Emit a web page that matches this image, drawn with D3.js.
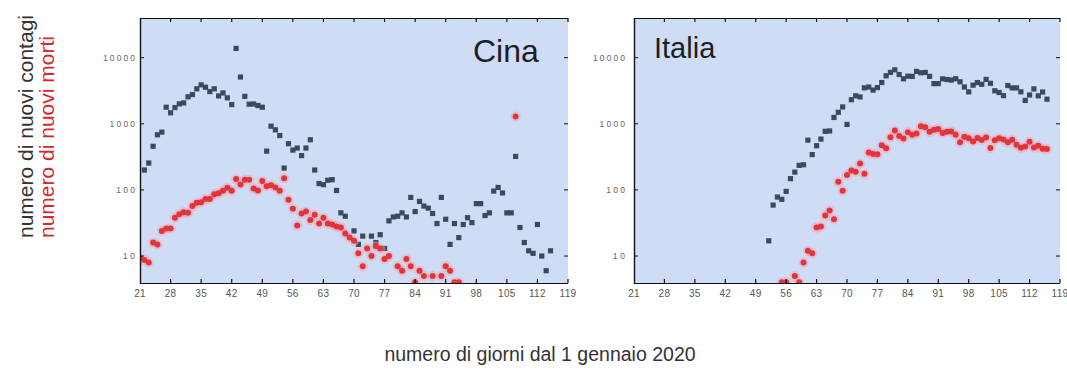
<!DOCTYPE html>
<html>
<head>
<meta charset="utf-8">
<script src="https://cdn.jsdelivr.net/npm/d3@7"></script>
<style>
  html, body { margin: 0; padding: 0; background: #ffffff; }
  svg { display: block; }
  text { font-family: "Liberation Sans", Arial, sans-serif; }
</style>
</head>
<body>
<svg id="chart" width="1067" height="379"></svg>
<script>
// Daily new cases (contagi) and new deaths (morti), by day of year 2020

// China - new cases
const chinaCaseDays = [22,23,24,25,26,27,28,29,30,31,32,33,34,35,36,37,38,39,40,41,42,43,44,45,46,47,48,49,50,51,52,53,54,55,56,57,58,59,60,61,62,63,64,65,66,67,68,70,71,72,74,75,76,77,78,79,80,81,82,83,84,85,86,87,88,89,90,91,92,93,94,95,96,97,98,99,100,101,102,103,104,105,106,107,108,109,110,111,112,113,114,115];
const chinaCases = [200,255,457,682,748,1780,1465,1760,2000,2070,2560,2770,3380,3880,3570,3070,3380,2640,2930,2470,1950,13800,5100,2600,1980,1990,1890,1780,386,920,810,665,214,500,400,430,330,430,573,200,125,120,140,143,98,45,40,24,15,20,20,16,21,13,34,39,40,45,39,77,47,67,57,53,44,31,77,36,15,31,19,30,38,32,62,62,41,45,96,109,90,45,45,321,27,16,12,11,30,10,6,12];

// China - new deaths
const chinaDeathDays = [21,22,23,24,25,26,27,28,29,30,31,32,33,34,35,36,37,38,39,40,41,42,43,44,45,46,47,48,49,50,51,52,53,54,55,56,57,58,59,60,61,62,63,64,65,66,67,68,69,70,71,72,73,74,75,76,77,78,80,81,82,83,84,85,86,88,90,91,92,93,94,107];
const chinaDeaths = [9.3,8.7,8,16,15,24,26,26,38,43,46,45,57,64,65,73,73,86,89,97,108,97,146,121,143,142,105,98,136,114,118,109,97,150,71,52,29,44,47,35,42,31,38,31,30,28,27,22,19,17,11,7,13,10,14,13,9,10,7,6,9,7,4,6,5,5,5,7,6,4,4,1290];

// Italy - new cases
const italyCaseDays = [52,53,54,55,56,57,58,59,60,61,62,63,64,65,66,67,68,69,70,71,72,73,74,75,76,77,78,79,80,81,82,83,84,85,86,87,88,89,90,91,92,93,94,95,96,97,98,99,100,101,102,103,104,105,106,107,108,109,110,111,112,113,114,115,116];
const italyCases = [17,59,78,72,95,148,186,235,240,566,342,466,587,769,778,1247,1492,1797,977,2313,2651,2547,3497,3590,3233,3526,4207,5322,5986,6557,5560,4789,5249,5210,6203,5909,5974,5217,4050,4053,4782,4668,4585,4805,4316,3599,3039,3836,4204,3951,4694,4092,3153,2972,2667,3786,3493,3491,3047,2256,2729,3370,2646,3021,2357];

// Italy - new deaths
const italyDeathDays = [55,56,58,59,60,61,62,63,64,65,66,67,68,69,70,71,72,73,74,75,76,77,78,79,80,81,82,83,84,85,86,87,88,89,90,91,92,93,94,95,96,97,98,99,100,101,102,103,104,105,106,107,108,109,110,111,112,113,114,115,116];
const italyDeaths = [4,4,5,4,8,12,11,27,28,41,49,36,133,97,168,196,189,250,175,368,349,345,475,427,627,793,651,601,743,683,712,919,889,756,812,837,727,760,766,681,525,636,604,542,610,570,619,431,566,602,578,525,575,482,433,454,534,437,464,420,415];

// Axis ticks
const dayTicks = [21,28,35,42,49,56,63,70,77,84,91,98,105,112,119];
const countTicks = [10,100,1000,10000];

// Panel titles and axis titles
const panelNames = ["Cina", "Italia"];
const xTitle = "numero di giorni dal 1 gennaio 2020";
const yTitleCases = "numero di nuovi contagi";
const yTitleDeaths = "numero di nuovi morti";

const svg = d3.select("#chart");

const plotTop = 18, plotBottom = 283;
const y = d3.scaleLog().domain([3.91, 39800]).range([plotBottom, plotTop]);

const panels = [
  { name: panelNames[0], x0: 140, x1: 568, labelGap: 5,
    cases: d3.zip(chinaCaseDays, chinaCases), deaths: d3.zip(chinaDeathDays, chinaDeaths),
    title: { x: 473, y: 61.5, size: 32 } },
  { name: panelNames[1], x0: 634, x1: 1060, labelGap: 9,
    cases: d3.zip(italyCaseDays, italyCases), deaths: d3.zip(italyDeathDays, italyDeaths),
    title: { x: 654, y: 57.5, size: 29 } }
];

const defs = svg.append("defs");

panels.forEach((p, i) => {
  const x = d3.scaleLinear().domain([21, 119]).range([p.x0, p.x1]);
  const g = svg.append("g");

  // plot background
  g.append("rect")
    .attr("x", p.x0).attr("y", plotTop)
    .attr("width", p.x1 - p.x0).attr("height", plotBottom - plotTop)
    .attr("fill", "#cfdcf5");

  defs.append("clipPath").attr("id", "clip" + i)
    .append("rect")
    .attr("x", p.x0).attr("y", plotTop)
    .attr("width", p.x1 - p.x0).attr("height", plotBottom - plotTop);

  // title
  g.append("text")
    .attr("x", p.title.x).attr("y", p.title.y)
    .attr("font-size", p.title.size)
    .attr("fill", "#1e1e24")
    .text(p.name);

  const marks = g.append("g").attr("clip-path", `url(#clip${i})`);

  // new cases: dark squares
  marks.selectAll("rect.case").data(p.cases).join("rect")
    .attr("class", "case")
    .attr("x", d => x(d[0]) - 2.6).attr("y", d => y(d[1]) - 2.6)
    .attr("width", 5.2).attr("height", 5.2)
    .attr("fill", "#3b495c");

  // new deaths: red dots with soft halo
  marks.selectAll("circle.halo").data(p.deaths).join("circle")
    .attr("class", "halo")
    .attr("cx", d => x(d[0])).attr("cy", d => y(d[1]))
    .attr("r", 5.2).attr("fill", "#f2a3ad").attr("opacity", 0.45);
  marks.selectAll("circle.death").data(p.deaths).join("circle")
    .attr("class", "death")
    .attr("cx", d => x(d[0])).attr("cy", d => y(d[1]))
    .attr("r", 3).attr("fill", "#e0353d");

  // frame: top, left, bottom
  const frame = g.append("g").attr("stroke", "#111").attr("fill", "none");
  frame.append("line").attr("x1", p.x0).attr("x2", p.x1).attr("y1", plotTop + 0.5).attr("y2", plotTop + 0.5).attr("stroke-width", 1.2);
  frame.append("line").attr("x1", p.x0).attr("x2", p.x1).attr("y1", plotBottom + 0.5).attr("y2", plotBottom + 0.5).attr("stroke-width", 1.2);
  frame.append("line").attr("x1", p.x0 + 0.5).attr("x2", p.x0 + 0.5).attr("y1", plotTop).attr("y2", plotBottom + 1).attr("stroke-width", 1.4);

  // x ticks (inward on top and bottom)
  const xt = dayTicks.filter(d => d > 21);
  g.append("g").selectAll("line").data(xt).join("line")
    .attr("x1", d => x(d)).attr("x2", d => x(d))
    .attr("y1", plotBottom).attr("y2", plotBottom - 4)
    .attr("stroke", "#111").attr("stroke-width", 1.2);
  g.append("g").selectAll("line").data(xt).join("line")
    .attr("x1", d => x(d)).attr("x2", d => x(d))
    .attr("y1", plotTop).attr("y2", plotTop + 4)
    .attr("stroke", "#111").attr("stroke-width", 1.2);

  // y ticks (inward on left and right)
  g.append("g").selectAll("line").data(countTicks).join("line")
    .attr("x1", p.x0).attr("x2", p.x0 + 4)
    .attr("y1", d => y(d)).attr("y2", d => y(d))
    .attr("stroke", "#111").attr("stroke-width", 1);
  g.append("g").selectAll("line").data(countTicks).join("line")
    .attr("x1", p.x1).attr("x2", p.x1 - 4)
    .attr("y1", d => y(d)).attr("y2", d => y(d))
    .attr("stroke", "#111").attr("stroke-width", 1);

  // x tick labels
  g.append("g").selectAll("text").data(dayTicks).join("text")
    .attr("x", d => x(d)).attr("y", plotBottom + 14)
    .attr("text-anchor", "middle")
    .attr("font-size", 10).attr("letter-spacing", 0.3)
    .attr("fill", "#555")
    .text(d => d);

  // y tick labels
  g.append("g").selectAll("text").data(countTicks).join("text")
    .attr("x", p.x0 - p.labelGap).attr("y", d => y(d) + 3)
    .attr("text-anchor", "end")
    .attr("font-size", 8.5)
    .attr("textLength", d => String(d).length * 6.6 - 1)
    .attr("lengthAdjust", "spacing")
    .attr("fill", "#666")
    .text(d => d);
});

// axis titles
svg.append("text")
  .attr("transform", "translate(33,238) rotate(-90)")
  .attr("font-size", 21).attr("fill", "#333")
  .text(yTitleCases);
svg.append("text")
  .attr("transform", "translate(54,238) rotate(-90)")
  .attr("font-size", 21).attr("fill", "#d42a2e")
  .text(yTitleDeaths);
svg.append("text")
  .attr("x", 540).attr("y", 361)
  .attr("text-anchor", "middle")
  .attr("font-size", 19.5).attr("fill", "#333")
  .text(xTitle);
</script>
</body>
</html>
